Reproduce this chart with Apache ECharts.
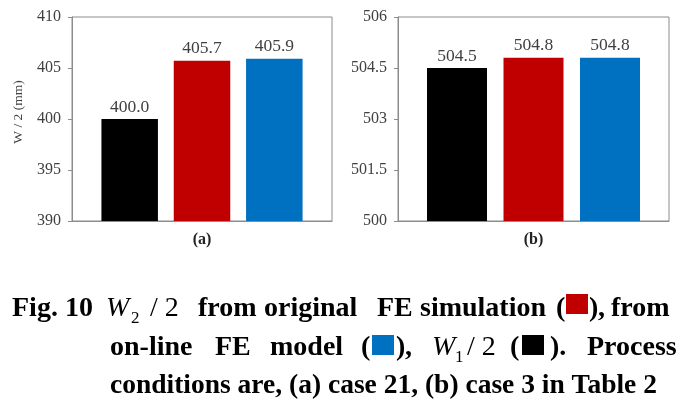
<!DOCTYPE html>
<html>
<head>
<meta charset="utf-8">
<script src="https://cdn.jsdelivr.net/npm/echarts@6/dist/echarts.min.js"></script>
<style>
html,body{margin:0;padding:0;background:#fff;}
#chart{width:694px;height:410px;}
</style>
</head>
<body>
<div id="chart"></div>
<script>
// ---- data ----
const panels = ['(a)', '(b)'];
const w1Half = [400.0, 504.5];       // W1/2 (black)
const w2Original = [405.7, 504.8];   // W2/2 original FE simulation (red)
const w2Online = [405.9, 504.8];     // W2/2 on-line FE model (blue)
const yTicksA = [390, 395, 400, 405, 410];
const yTicksB = [500, 501.5, 503, 504.5, 506];
const yAxisTitle = 'W / 2 (mm)';

const SERIF = "'Liberation Serif', 'Times New Roman', serif";
const TXT = '#404040';
const FRAME = '#8c8c8c';
const COLORS = ['#000000', '#C00000', '#0070C0'];
const seriesSets = [w1Half, w2Original, w2Online];

const gridBoxes = [
  {left: 72, top: 17, width: 260, height: 204},
  {left: 398, top: 17, width: 271, height: 204}
];
const barWidths = [56.5, 60];
const barGaps = ['28%', '27.5%'];

const ticksPerPanel = [yTicksA, yTicksB];

const grids = gridBoxes.map(g => Object.assign({
  show: true, borderColor: FRAME, borderWidth: 1, backgroundColor: '#fff',
  containLabel: false, outerBoundsMode: 'none'
}, g));

const xAxes = panels.map((p, i) => ({
  type: 'category', gridIndex: i, data: [p],
  axisLine: {lineStyle: {color: FRAME}},
  axisTick: {show: false},
  axisLabel: {fontFamily: SERIF, fontSize: 16, fontWeight: 'bold', color: '#222', margin: 11}
}));

const yAxes = panels.map((p, i) => {
  const t = ticksPerPanel[i];
  return {
    type: 'value', gridIndex: i,
    min: t[0], max: t[t.length - 1],
    name: i === 0 ? yAxisTitle : '',
    nameLocation: 'middle', nameGap: 47, nameRotate: 90,
    nameTextStyle: {fontFamily: SERIF, fontSize: 13.5, color: TXT, padding: [0, 0, 0, 14]},
    splitLine: {show: false},
    axisLine: {show: true, lineStyle: {color: FRAME}},
    axisTick: {show: true, length: 4, lineStyle: {color: FRAME}, customValues: t},
    axisLabel: {fontFamily: SERIF, fontSize: 16, color: TXT, margin: 11, customValues: t,
      formatter: v => String(v)}
  };
});

const series = [];
panels.forEach((p, i) => {
  seriesSets.forEach((arr, k) => {
    series.push({
      type: 'bar', xAxisIndex: i, yAxisIndex: i,
      data: [arr[i]],
      barWidth: barWidths[i], barGap: barGaps[i],
      itemStyle: {color: COLORS[k]},
      label: {show: true, position: 'top', distance: 3, fontFamily: SERIF, fontSize: 17.5, color: TXT,
        formatter: q => q.value.toFixed(1)},
      silent: true, animation: false
    });
  });
});

// ---- caption ----
const FS = 28;
const mk = (t, x, base, font, fs) => ({type: 'text', style: {text: t, x: x, y: base - 0.3 * fs, fill: '#000',
  font: font + ' ' + fs + 'px ' + SERIF, align: 'left', verticalAlign: 'middle'}});
const bold = (t, x, base, fs) => mk(t, x, base, 'bold', fs || FS);
const ital = (t, x, base) => mk(t, x, base, 'italic', FS);
const reg = (t, x, base, fs) => mk(t, x, base, 'normal', fs || FS);
const sq = (x, y, c) => ({type: 'rect', shape: {x: x, y: y, width: 22, height: 20}, style: {fill: c}});

const L1 = 317, L2 = 356, L3 = 394;
const caption = [
  bold('Fig. 10', 12, L1),
  ital('W', 106, L1), reg('2', 131, L1 + 7, 17), reg('/ 2', 150, L1),
  bold('from', 198, L1), bold('original', 264, L1), bold('FE', 377, L1), bold('simulation', 420, L1),
  bold('(', 556, L1), sq(566, 294, COLORS[1]), bold(')', 589, L1), bold(',', 598, L1), bold('from', 611, L1),
  bold('on-line', 110, L2), bold('FE', 215, L2), bold('model', 270, L2),
  bold('(', 361, L2), sq(372, 335, COLORS[2]), bold(')', 396, L2), bold(',', 405, L2),
  ital('W', 432, L2), reg('1', 455, L2 + 7, 17), reg('/ 2', 467, L2),
  bold('(', 510, L2), sq(522, 335, COLORS[0]), bold(').', 550, L2), bold('Process', 587, L2),
  bold('conditions are, (a) case 21, (b) case 3 in Table 2', 110, L3, 27.5)
];

const chart = echarts.init(document.getElementById('chart'), null, {renderer: 'canvas'});
chart.setOption({
  backgroundColor: '#fff',
  animation: false,
  grid: grids,
  xAxis: xAxes,
  yAxis: yAxes,
  series: series,
  graphic: caption
});
</script>
</body>
</html>
